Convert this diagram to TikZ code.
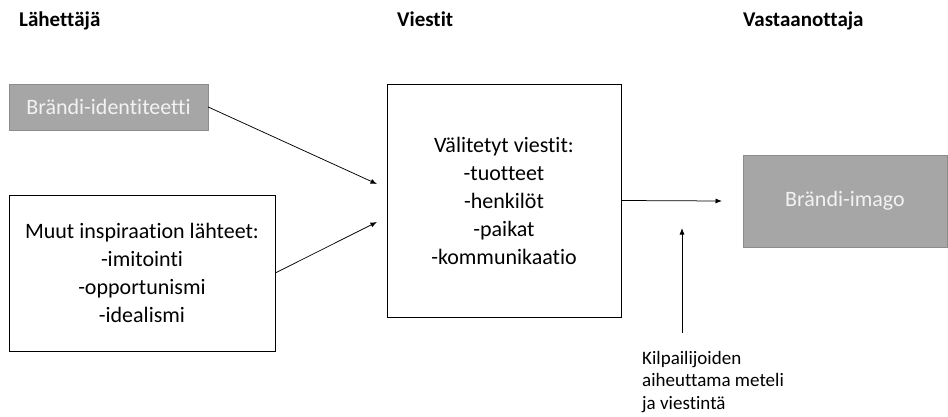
\documentclass[tikz,border=0pt]{standalone}
\usepackage{fontspec}
\setmainfont{Carlito}[Ligatures={NoCommon}]
\definecolor{brandgray}{RGB}{166,166,166}
\definecolor{brandedge}{RGB}{140,140,140}
\definecolor{brandtext}{RGB}{242,242,242}
\usetikzlibrary{arrows.meta,positioning}
\tikzset{
  headline/.style={font=\bfseries\fontsize{21}{24}\selectfont, anchor=base west, inner sep=0pt},
  graybox/.style={draw=brandedge, fill=brandgray, text=brandtext, inner sep=0pt,
    font=\fontsize{22}{28}\selectfont},
  whitebox/.style={draw=black, fill=white, align=center, inner sep=0pt,
    font=\fontsize{22}{28}\selectfont},
  flow/.style={-{Latex[length=6.5pt,width=5pt]}, line width=0.75pt}
}

\begin{document}
\begin{tikzpicture}[x=1pt, y=-1pt]
    \useasboundingbox (0,0) rectangle (948,417);
    % otsikot
    \node[headline] (sender) at (19,27) {Lähettäjä};
    \node[headline] (msgs) at (397,27) {Viestit};
    \node[headline] (receiver) at (743,27) {Vastaanottaja};
    % laatikot
    \node[graybox, minimum width=199pt, minimum height=46pt] (ident) at (108.5,107) {Brändi-identiteetti};
    \node[whitebox, minimum width=266pt, minimum height=156pt] (other) at (142,273)
      {Muut inspiraation lähteet:\\-imitointi\\-opportunismi\\-idealismi};
    \node[whitebox, minimum width=234pt, minimum height=233pt] (conveyed) at (504,200.5)
      {Välitetyt viestit:\\-tuotteet\\-henkilöt\\-paikat\\-kommunikaatio};
    \node[graybox, minimum width=204pt, minimum height=92pt] (image) at (845,201) {Brändi-imago};
    \node[align=left, anchor=north west, inner sep=0pt,
          font=\fontsize{19}{22.5}\selectfont] (noise) at (642,351)
      {Kilpailijoiden\\aiheuttama meteli\\ja viestintä};
    % nuolet
    \coordinate (inA) at (377,184);
    \coordinate (inB) at (377,222);
    \coordinate (outEnd) at (722,201);
    \coordinate (noiseTop) at (682,333);
    \coordinate (noiseTip) at (682,228);
    \draw[flow] (ident.east) -- (inA);
    \draw[flow] (other.east) -- (inB);
    \draw[flow] (conveyed.east) -- (outEnd);
    \draw[flow] (noiseTop) -- (noiseTip);
  \end{tikzpicture}
\end{document}
